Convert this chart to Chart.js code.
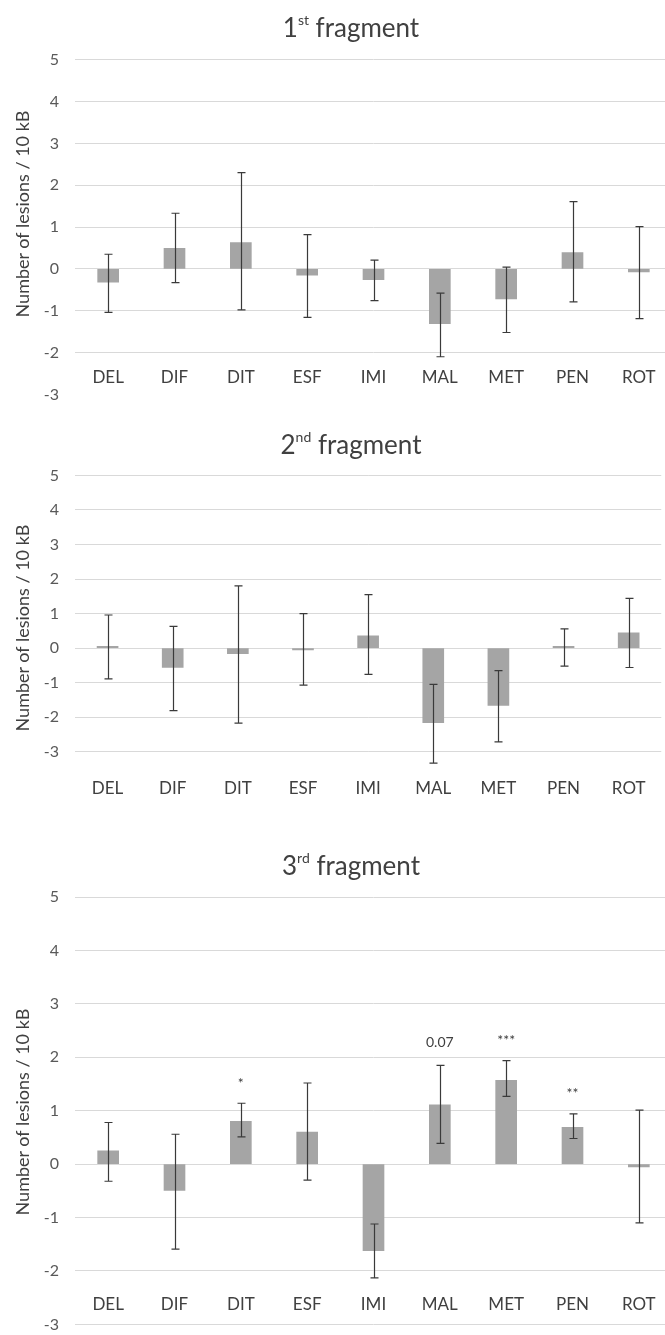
<!DOCTYPE html>
<html>
<head>
<meta charset="utf-8">
<script src="https://cdn.jsdelivr.net/npm/chart.js@4.4.1/dist/chart.umd.min.js"></script>
<style>
  html, body { margin: 0; padding: 0; background: #fff; overflow: hidden; }
  body { width: 665px; height: 1335px; position: relative; font-family: Lato, sans-serif; color: #404040; }
  .box { position: absolute; left: 0; width: 672px; }
  .title { position: absolute; left: 0; width: 702px; text-align: center; font-size: 26px; line-height: 31.2px; white-space: nowrap; }
  .title sup { font-size: 14px; vertical-align: 12px; line-height: 0; }
  .ytitle { position: absolute; font-size: 18px; color: #404040; white-space: nowrap; transform: translate(-50%, -50%) rotate(-90deg); }
</style>
</head>
<body>

<div class="box" style="top:0px;height:420px"><canvas id="frag1" width="672" height="420"></canvas></div>
<div class="box" style="top:420px;height:420px"><canvas id="frag2" width="672" height="420"></canvas></div>
<div class="box" style="top:840px;height:510px"><canvas id="frag3" width="672" height="510"></canvas></div>

<div class="title" style="top:11.6px">1<sup>st</sup> fragment</div>
<div class="title" style="top:429.3px">2<sup>nd</sup> fragment</div>
<div class="title" style="top:850.3px">3<sup>rd</sup> fragment</div>

<div class="ytitle" style="left:22px;top:214px">Number of lesions / 10 kB</div>
<div class="ytitle" style="left:22px;top:628px">Number of lesions / 10 kB</div>
<div class="ytitle" style="left:22px;top:1112px">Number of lesions / 10 kB</div>

<script>
// --- data ---
const categories = ['DEL', 'DIF', 'DIT', 'ESF', 'IMI', 'MAL', 'MET', 'PEN', 'ROT'];
const yMin = -3;
const yMax = 5;

const frag1Means = [-0.32, 0.49, 0.63, -0.15, -0.26, -1.31, -0.72, 0.39, -0.07];
const frag1Upper = [0.35, 1.33, 2.30, 0.82, 0.21, -0.58, 0.04, 1.61, 1.01];
const frag1Lower = [-1.04, -0.33, -0.98, -1.16, -0.76, -2.10, -1.52, -0.79, -1.19];

const frag2Means = [0.05, -0.56, -0.16, -0.05, 0.36, -2.16, -1.66, 0.05, 0.44];
const frag2Upper = [0.96, 0.63, 1.80, 1.00, 1.55, -1.05, -0.65, 0.56, 1.44];
const frag2Lower = [-0.89, -1.81, -2.17, -1.07, -0.76, -3.33, -2.71, -0.52, -0.56];

const frag3Means = [0.25, -0.49, 0.80, 0.60, -1.62, 1.11, 1.57, 0.69, -0.05];
const frag3Upper = [0.78, 0.56, 1.14, 1.52, -1.12, 1.85, 1.94, 0.94, 1.01];
const frag3Lower = [-0.32, -1.59, 0.51, -0.30, -2.13, 0.39, 1.27, 0.48, -1.10];
const frag3Marks = ['', '', '*', '', '', '0.07', '***', '**', ''];

const barColor = '#a5a5a5';
const gridColor = '#d9d9d9';
const textColor = '#404040';

// error bars + significance marks, drawn through the y scale
const errorBars = {
    id: 'errorBars',
    afterDatasetsDraw(chart, args, opts) {
        const ctx = chart.ctx;
        const y = chart.scales.y;
        const meta = chart.getDatasetMeta(0);
        ctx.save();
        ctx.strokeStyle = '#3a3a3a';
        ctx.lineWidth = 1.2;
        meta.data.forEach(function(bar, i) {
            const x = Math.round(bar.x) + 0.5;
            const top = y.getPixelForValue(opts.upper[i]);
            const bottom = y.getPixelForValue(opts.lower[i]);
            ctx.beginPath();
            ctx.moveTo(x, top); ctx.lineTo(x, bottom);
            ctx.moveTo(x - 4, top); ctx.lineTo(x + 4, top);
            ctx.moveTo(x - 4, bottom); ctx.lineTo(x + 4, bottom);
            ctx.stroke();
            if (opts.marks && opts.marks[i]) {
                // centre the glyphs ~23px above the error cap
                ctx.fillStyle = textColor;
                ctx.font = '14px Lato';
                ctx.textAlign = 'center';
                ctx.textBaseline = 'alphabetic';
                const m = ctx.measureText(opts.marks[i]);
                const mid = top - 23;
                ctx.fillText(opts.marks[i], bar.x, mid + (m.actualBoundingBoxAscent - m.actualBoundingBoxDescent) / 2);
            }
        });
        ctx.restore();
    }
};

function makeChart(id, means, upper, lower, marks, pad, xPos, xPad, hideBottomGrid) {
    return new Chart(document.getElementById(id), {
        type: 'bar',
        data: {
            labels: categories,
            datasets: [{
                data: means,
                backgroundColor: barColor,
                borderWidth: 0,
                barThickness: 21
            }]
        },
        options: {
            responsive: false,
            devicePixelRatio: 1,
            animation: false,
            layout: { padding: pad },
            scales: {
                x: {
                    position: xPos,
                    grid: { display: false, drawTicks: false },
                    border: { display: false },
                    ticks: { color: textColor, font: { family: 'Lato', size: 17 }, padding: xPad }
                },
                y: {
                    min: yMin, max: yMax,
                    afterFit: function(s) { s.width = 75; },
                    grid: {
                        drawTicks: false,
                        color: function(c) { return (hideBottomGrid && c.tick.value === yMin) ? 'rgba(0,0,0,0)' : gridColor; }
                    },
                    border: { display: false },
                    ticks: { stepSize: 1, padding: 16, color: '#595959', font: { family: 'Lato', size: 16 } }
                }
            },
            plugins: {
                legend: { display: false },
                tooltip: { enabled: false },
                errorBars: { upper: upper, lower: lower, marks: marks }
            }
        },
        plugins: [errorBars]
    });
}

makeChart('frag1', frag1Means, frag1Upper, frag1Lower, null,
    { top: 59.7, bottom: 17.7, left: 0, right: 0 }, { y: -2.35 }, 0, true);
makeChart('frag2', frag2Means, frag2Upper, frag2Lower, null,
    { top: 55.4, bottom: 14.8, left: 0, right: 0 }, 'bottom', 26.5, false);
makeChart('frag3', frag3Means, frag3Upper, frag3Lower, frag3Marks,
    { top: 57.1, bottom: 10.4, left: 0, right: 0 }, { y: -2.43 }, 0, false);
</script>
</body>
</html>
